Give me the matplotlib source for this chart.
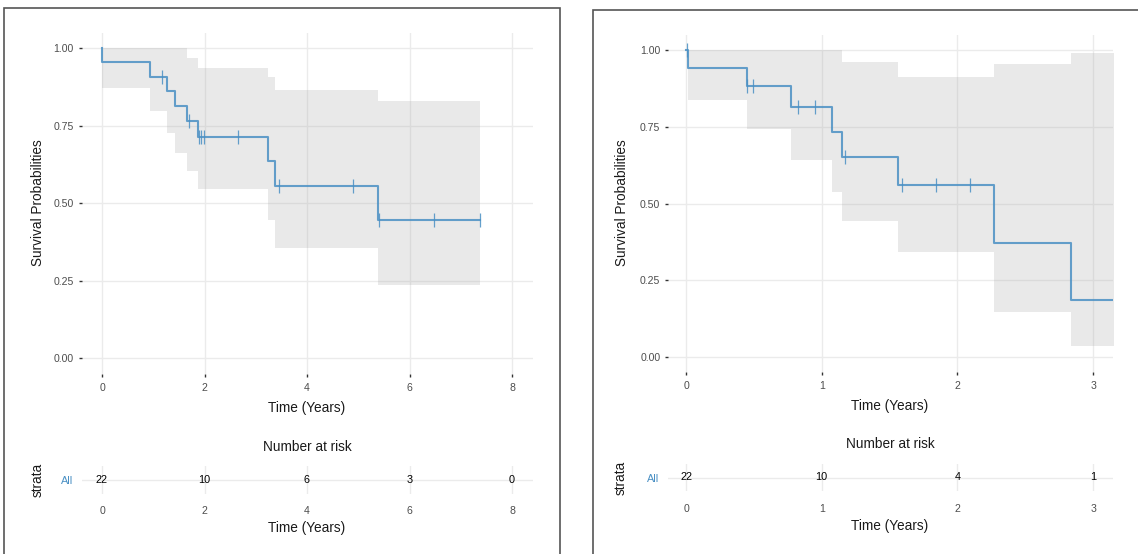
import numpy as np
import matplotlib
matplotlib.use("Agg")
import matplotlib.pyplot as plt
from matplotlib.patches import Rectangle

plt.rcParams["font.family"] = ["Liberation Sans", "DejaVu Sans"]

# ---- left panel data ----
L_step_t  = [0.0, 0.0, 0.94, 1.26, 1.43, 1.66, 1.88, 3.23, 3.37, 5.39, 7.37]
L_step_s  = [1.0, 0.955, 0.909, 0.862, 0.814, 0.766, 0.714, 0.635, 0.556, 0.445, 0.445]
L_ci_t    = [0.0, 0.94, 1.26, 1.43, 1.66, 1.88, 3.23, 3.37, 5.39, 7.37]
L_ci_up   = [1.0, 1.0, 1.0, 1.0, 0.968, 0.935, 0.906, 0.865, 0.830, 0.830]
L_ci_lo   = [0.871, 0.797, 0.727, 0.663, 0.603, 0.545, 0.445, 0.357, 0.238, 0.238]
L_censor  = [1.17, 1.69, 1.885, 1.94, 1.995, 2.66, 3.45, 4.90, 5.40, 6.47, 7.37]
L_ticks   = [0, 2, 4, 6, 8]
L_risk    = [22, 10, 6, 3, 0]

# ---- right panel data ----
R_step_t  = [0.0, 0.017, 0.45, 0.774, 1.076, 1.147, 1.56, 2.268, 2.839, 3.3]
R_step_s  = [1.0, 0.941, 0.882, 0.814, 0.733, 0.652, 0.559, 0.373, 0.186, 0.186]
R_ci_t    = [0.017, 0.45, 0.774, 1.076, 1.147, 1.56, 2.268, 2.839, 3.3]
R_ci_up   = [1.0, 1.0, 1.0, 1.0, 0.962, 0.913, 0.953, 0.992, 0.992]
R_ci_lo   = [0.837, 0.742, 0.643, 0.536, 0.442, 0.342, 0.147, 0.036, 0.036]
R_censor  = [0.005, 0.45, 0.49, 0.825, 0.953, 1.169, 1.589, 1.839, 2.096]
R_ticks   = [0, 1, 2, 3]
R_risk    = [22, 10, 4, 1]

y_ticks = [0.0, 0.25, 0.5, 0.75, 1.0]
LINE = "#4A90C4"
GRID = "#EBEBEB"
TXT = "#4D4D4D"

W, H = 1138, 554
fig = plt.figure(figsize=(W / 100, H / 100), dpi=100)

def box(l, t, r, b):
    return [l / W, 1 - b / H, (r - l) / W, (b - t) / H]

def ftext(x, y, s, **kw):
    fig.text(x / W, 1 - y / H, s, ha="center", va="center", **kw)

def style(ax):
    for sp in ax.spines.values():
        sp.set_visible(False)
    ax.set_axisbelow(True)
    ax.grid(True, color=GRID, lw=1.0)
    ax.tick_params(labelsize=7.6, labelcolor=TXT, color="#333333", length=2.5, width=1.0)

def km_panel(main_box, risk_box, xlim, st, ss, ct, cu, cl, cens, ticks, risk):
    ax = fig.add_axes(box(*main_box))
    style(ax)
    ax.fill_between(ct, cl, cu, step="post", color="#9E9E9E", alpha=0.22, lw=0)
    ax.step(st, ss, where="post", color=LINE, lw=1.5, alpha=0.85)
    idx = np.searchsorted(st, cens, side="right") - 1
    ax.plot(cens, np.array(ss)[idx], ls="none", marker="|", ms=10, mew=0.9, color=LINE, alpha=0.85)
    ax.set_xlim(*xlim)
    ax.set_ylim(-0.05, 1.05)
    ax.set_xticks(ticks)
    ax.set_yticks(y_ticks)
    ax.set_yticklabels([f"{v:.2f}" for v in y_ticks])
    ax.tick_params(axis="x", pad=4)
    ax.tick_params(axis="y", pad=3)

    rk = fig.add_axes(box(*risk_box))
    style(rk)
    rk.set_xlim(*xlim)
    rk.set_ylim(-0.5, 0.5)
    rk.set_xticks(ticks)
    rk.set_yticks([0])
    rk.set_yticklabels(["All"], color=LINE)
    rk.tick_params(length=0)
    rk.tick_params(axis="x", pad=9)
    rk.tick_params(axis="y", pad=6, labelsize=7.8)
    for t, n in zip(ticks, risk):
        rk.text(t, 0, str(n), ha="center", va="center", fontsize=7.8, color="black")
    return ax, rk

km_panel((81.5, 32.8, 532.5, 373.8), (81.5, 466, 532.5, 494), (-0.4, 8.4),
         L_step_t, L_step_s, L_ci_t, L_ci_up, L_ci_lo, L_censor, L_ticks, L_risk)
km_panel((668, 34.7, 1113, 372.4), (668, 464, 1113, 491), (-0.133, 3.147),
         R_step_t, R_step_s, R_ci_t, R_ci_up, R_ci_lo, R_censor, R_ticks, R_risk)

lab = dict(fontsize=9.8, color="#1A1A1A")
ftext(38, 203, "Survival Probabilities", rotation=90, **lab)
ftext(307, 408, "Time (Years)", **lab)
ftext(307, 447, "Number at risk", **lab)
ftext(38, 480, "strata", rotation=90, **lab)
ftext(307, 528, "Time (Years)", **lab)

ftext(622, 203, "Survival Probabilities", rotation=90, **lab)
ftext(890, 406, "Time (Years)", **lab)
ftext(890, 444, "Number at risk", **lab)
ftext(621, 478, "strata", rotation=90, **lab)
ftext(890, 526, "Time (Years)", **lab)

# panel frames
for l, t, r in [(4, 8, 560), (593, 10, 1150)]:
    fig.patches.append(Rectangle((l / W, -0.05), (r - l) / W, 1 - t / H + 0.05,
                                 transform=fig.transFigure, fill=False,
                                 ec="#555555", lw=1.2))

fig.savefig("out.png", dpi=100)
